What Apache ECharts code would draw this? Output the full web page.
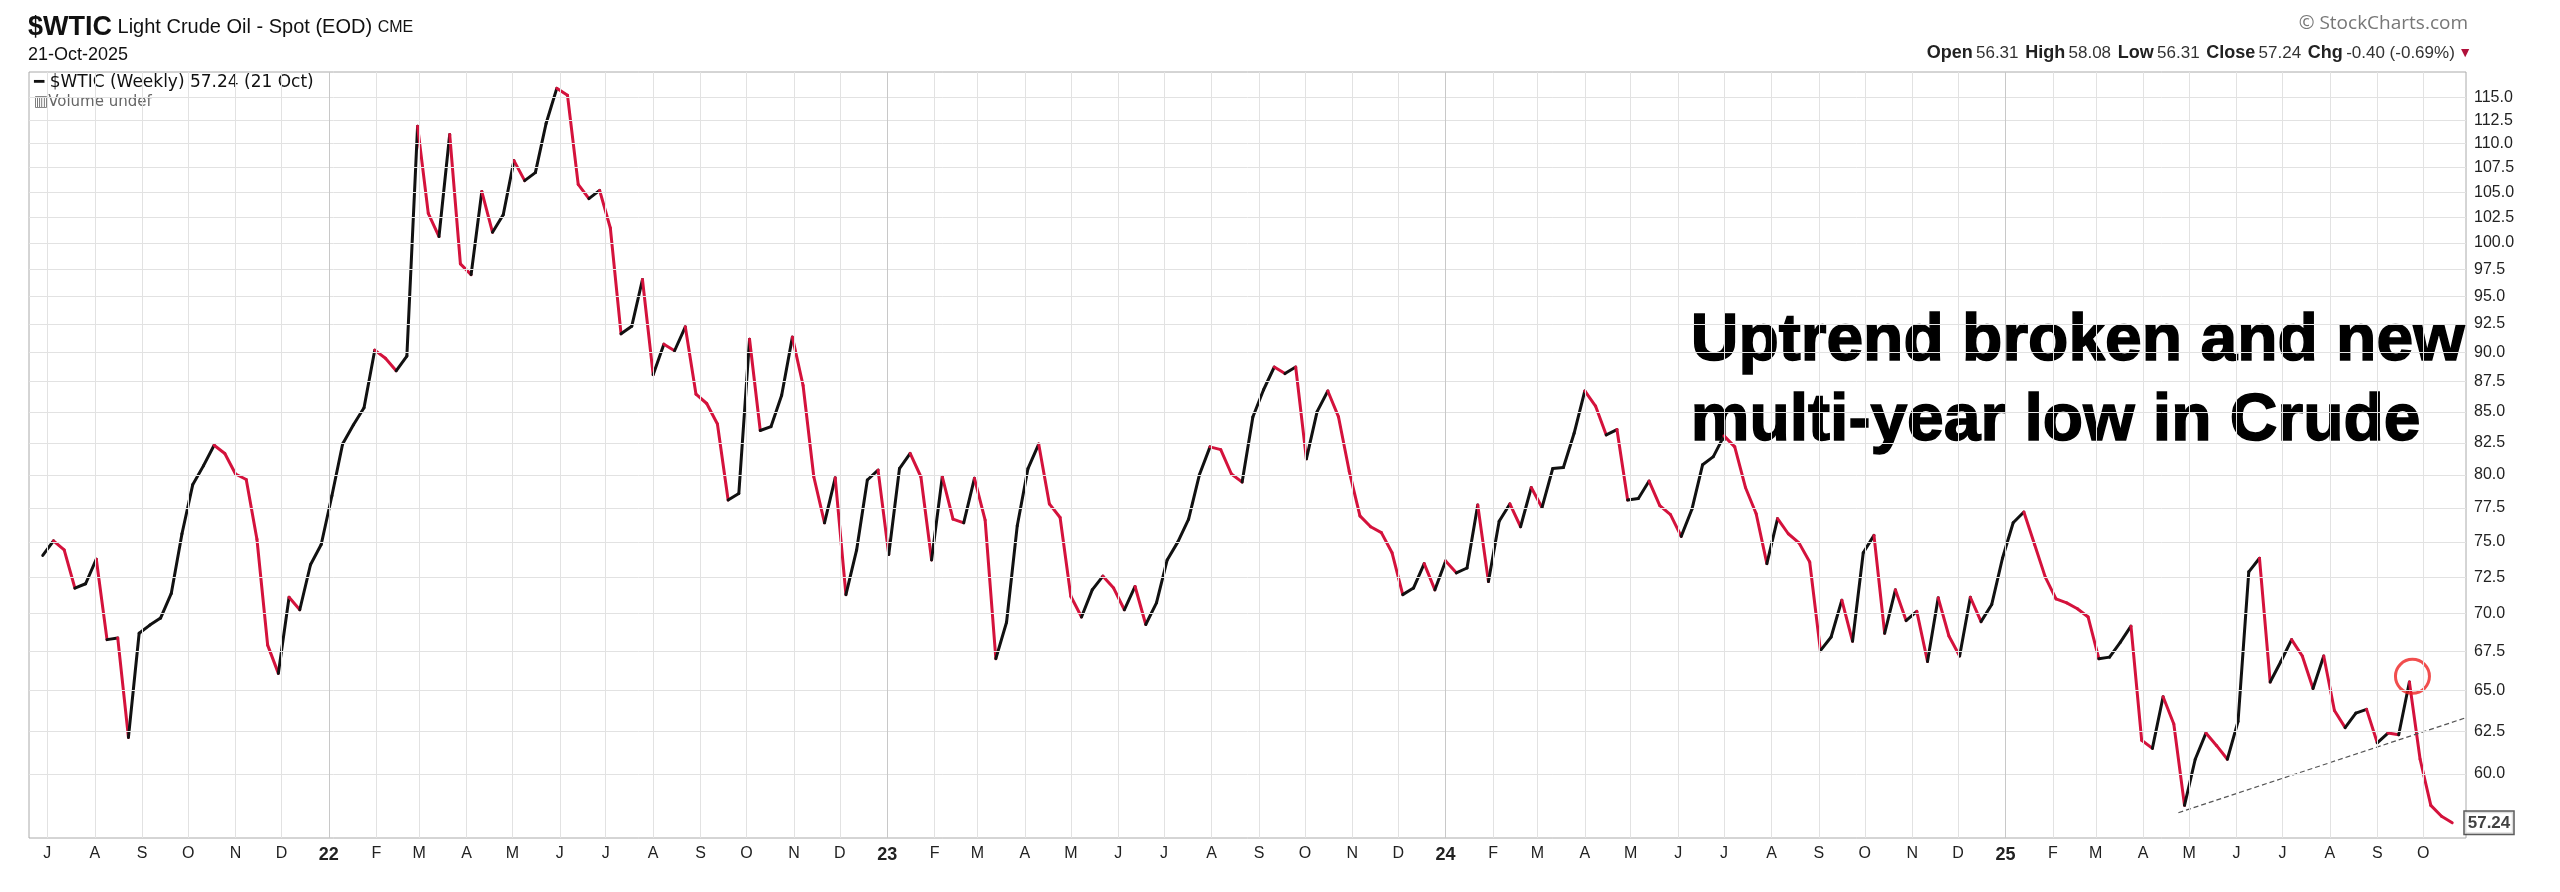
<!DOCTYPE html>
<html><head><meta charset="utf-8">
<script src="https://cdn.jsdelivr.net/npm/echarts@6/dist/echarts.min.js"></script>
<style>html,body{margin:0;padding:0;background:#fff}#c{width:2560px;height:892px}</style>
</head><body><div id="c"></div>
<script>
const lastDate = '2025-10-20';
const prices = [
74.03,75.08,74.42,71.74,72.04,73.76,68.27,68.38,62.14,68.69,69.23,69.70,71.37,75.59,79.23,80.69,82.31,81.66,80.06,79.64,75.19,67.91,66.09,71.11,70.26,73.37,74.81,78.40,82.40,83.92,85.33,90.19,89.49,88.42,89.68,111.86,102.88,100.61,110.99,98.00,96.99,105.06,101.02,102.73,108.23,106.17,106.99,112.16,116.02,115.24,105.78,104.34,105.17,101.44,91.62,92.29,96.53,88.09,90.71,90.14,92.24,86.45,85.68,84.01,78.08,78.58,91.14,83.48,83.79,86.37,91.33,87.18,79.85,76.39,79.77,71.29,74.42,79.60,80.36,74.10,80.48,
81.66,79.85,73.71,79.85,76.66,76.39,79.73,76.58,67.03,69.42,76.18,80.48,82.40,77.79,76.78,71.18,69.77,71.62,72.57,71.74,70.26,71.85,69.27,70.73,73.71,75.00,76.66,79.98,82.18,81.96,80.06,79.44,84.58,86.82,88.74,88.18,88.74,81.24,85.01,86.72,84.58,80.27,76.90,76.10,75.67,74.22,71.29,71.74,73.45,71.62,73.64,72.80,73.14,77.71,72.19,76.50,77.79,76.10,79.03,77.52,80.48,80.56,83.26,86.72,85.47,83.13,83.56,78.08,78.20,79.52,77.67,76.99,75.40,77.39,80.78,81.41,83.05,82.18,79.03,
77.06,73.45,76.70,75.59,74.93,73.56,67.55,68.44,70.91,68.16,74.22,75.47,68.69,71.62,69.53,70.15,66.85,71.07,68.51,67.20,71.11,69.46,70.62,73.83,76.39,77.19,74.81,72.50,71.00,70.73,70.33,69.77,67.03,67.13,68.09,69.16,61.97,61.49,64.62,62.95,58.21,60.85,62.40,61.65,60.85,63.11,72.87,73.83,65.54,66.85,68.27,67.20,65.13,67.20,63.77,62.73,63.61,63.84,61.82,62.40,62.30,65.54,60.85,58.21,57.60,57.24];
const yTicks = [60,62.5,65,67.5,70,72.5,75,77.5,80,82.5,85,87.5,90,92.5,95,97.5,100,102.5,105,107.5,110,112.5,115];
const trendDates = ['2025-04-24','2025-10-28'];
const trendValues = [57.8, 63.3];
const circleDate = '2025-09-24', circleValue = 65.9;
const xMinDate = '2021-06-19', xMaxDate = '2025-10-29';
const yMin = 56.41, yMax = 117.86;

const DAY = 86400000;
const T = s => Date.parse(s + 'T00:00:00Z');
const end = T(lastDate);
const dates = prices.map((_, i) => end - (prices.length - 1 - i) * 7 * DAY);
const segs = [];
for (let i = 1; i < prices.length; i++) segs.push([dates[i-1], prices[i-1], dates[i], prices[i]]);
const months = [];
for (let y = 2021; y <= 2025; y++) for (let m = 0; m < 12; m++) {
  const t = Date.UTC(y, m, 1);
  if (t > T(xMinDate) && t < T(xMaxDate)) months.push(t);
}
const ML = 'JFMAMJJASOND';
const chart = echarts.init(document.getElementById('c'));
chart.setOption({
  animation: false,
  grid: {left: 29, right: 94, top: 72, bottom: 54, show: true, borderColor: '#aaa', borderWidth: 1},
  xAxis: {type: 'value', min: T(xMinDate), max: T(xMaxDate),
    axisLine: {show: false}, axisTick: {show: false}, splitLine: {show: false},
    axisLabel: {customValues: months, margin: 8, fontFamily: 'Liberation Sans', fontSize: 16, color: '#222',
      formatter: v => { const d = new Date(v); const m = d.getUTCMonth(); return m === 0 ? '{y|' + String(d.getUTCFullYear()).slice(2) + '}' : ML[m]; },
      rich: {y: {fontWeight: 'bold', fontSize: 18, fontFamily: 'Liberation Sans', color: '#222'}}}},
  yAxis: {type: 'log', logBase: 10, position: 'right', min: yMin, max: yMax,
    axisLine: {show: false}, axisTick: {show: false}, splitLine: {show: false},
    axisLabel: {customValues: yTicks, formatter: v => Number(v).toFixed(1), margin: 8,
      fontFamily: 'Liberation Sans', fontSize: 16, color: '#222'}},
  series: [
    {type: 'line', data: [], silent: true, markLine: {silent: true, symbol: 'none', label: {show: false},
      lineStyle: {color: '#e2e2e2', type: 'solid', width: 1},
      data: yTicks.map(v => ({yAxis: v})).concat(months.map(t => ({xAxis: t, lineStyle: {color: new Date(t).getUTCMonth() === 0 ? '#c8c8c8' : '#e2e2e2', type: 'solid', width: 1}})))}},
    {type: 'custom', data: segs, clip: true,
      renderItem: (params, api) => {
        const a = api.coord([api.value(0), api.value(1)]);
        const b = api.coord([api.value(2), api.value(3)]);
        const up = api.value(3) >= api.value(1);
        return {type: 'line', shape: {x1: a[0], y1: a[1], x2: b[0], y2: b[1]},
          style: {stroke: up ? '#111' : '#d4123c', lineWidth: 3, lineCap: 'round'}};
      }},
    {type: 'line', data: trendDates.map((d, i) => [T(d), trendValues[i]]), symbol: 'none',
      lineStyle: {color: '#555', width: 1.2, type: [5, 3]}, silent: true},
    {type: 'scatter', data: [[T(circleDate), circleValue]], symbol: 'circle', symbolSize: 34,
      itemStyle: {color: 'rgba(0,0,0,0)', borderColor: '#ee2222', borderWidth: 3}, silent: true},
    {type: 'scatter', data: [[dates[dates.length-1], prices[prices.length-1]]], symbolSize: 1, silent: true,
      itemStyle: {color: 'rgba(0,0,0,0)'},
      label: {show: true, position: 'right', distance: 12, formatter: p => p.value[1].toFixed(2),
        fontFamily: 'Liberation Sans', fontWeight: 'bold', fontSize: 17, color: '#111',
        borderColor: '#333', borderWidth: 1.5, padding: [3, 3, 2, 3], backgroundColor: '#fff'}}
  ],
  graphic: [
    {type: 'text', left: 28, top: 14, style: {rich: {
        a: {fontFamily: 'Liberation Sans', fontWeight: 'bold', fontSize: 27, fill: '#111'},
        b: {fontFamily: 'Liberation Sans', fontSize: 20, fill: '#111'},
        c: {fontFamily: 'Liberation Sans', fontSize: 16, fill: '#111'}},
      text: '{a|$WTIC}{b| Light Crude Oil - Spot (EOD) }{c|CME}'}},
    {type: 'text', left: 28, top: 46, style: {text: '21-Oct-2025', font: '18px "Liberation Sans"', fill: '#111'}},
    {type: 'text', left: 34, top: 74, style: {text: '━ $WTIC (Weekly) 57.24 (21 Oct)', font: '17px "DejaVu Sans"', fill: '#111'}},
    {type: 'text', left: 34, top: 95, style: {text: '▥Volume undef', font: '15px "DejaVu Sans"', fill: '#666'}},
    {type: 'text', right: 92, top: 14, style: {text: '© StockCharts.com', font: '19px "Open Sans"', fill: '#777'}},
    {type: 'text', right: 88, top: 44, style: {rich: {
        l: {fontFamily: 'Liberation Sans', fontWeight: 'bold', fontSize: 18, fill: '#222'},
        v: {fontFamily: 'Liberation Sans', fontSize: 17, fill: '#333'},
        r: {fontSize: 14, fill: '#b0103a'}},
      text: '{l|Open} {v|56.31}  {l|High} {v|58.08}  {l|Low} {v|56.31}  {l|Close} {v|57.24}  {l|Chg} {v|-0.40 (-0.69%)} {r|▼}'}},
    {type: 'text', left: 1690, top: 302, style: {text: 'Uptrend broken and new\nmulti-year low in Crude',
      font: 'bold 66px "Liberation Sans"', lineHeight: 80, fill: '#000', stroke: '#000', lineWidth: 1.5}}
  ]
});
</script></body></html>
